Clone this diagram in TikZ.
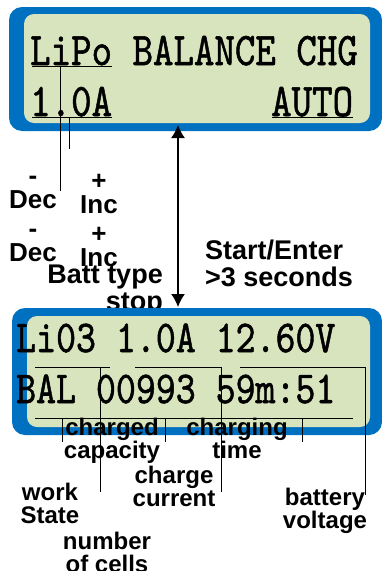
\documentclass[tikz,border=0pt]{standalone}
\usepackage{fontspec}
\setsansfont{Liberation Sans}
\newfontfamily\lcdfont{lmmono10-regular}[Extension=.otf,FakeBold=1.2]
\usetikzlibrary{arrows.meta}
\definecolor{lcdblue}{RGB}{0,112,192}
\definecolor{lcdgreen}{RGB}{215,228,189}
\newcommand{\tall}[1]{\scalebox{1}[1.2]{#1}}
\tikzset{
  lcdframe/.style={fill=lcdblue,rounded corners=13pt},
  lcdscreen/.style={fill=lcdgreen,rounded corners=10pt},
  lcdtext/.style={inner sep=0pt,anchor=base west,font=\lcdfont\fontsize{39}{39}\selectfont},
  keylbl/.style={inner sep=0pt,align=center,anchor=north,font=\sffamily\bfseries\fontsize{26}{24}\selectfont},
  biglbl/.style={inner sep=0pt,font=\sffamily\bfseries\fontsize{27}{27}\selectfont},
  fieldlbl/.style={inner sep=0pt,align=center,anchor=north,font=\sffamily\bfseries\fontsize{24}{23}\selectfont},
  pointer/.style={line width=1pt}
}
\begin{document}
\begin{tikzpicture}[x=1pt,y=-1pt]
  \useasboundingbox (0,0) rectangle (382,571);
  % upper display
  \fill[lcdframe] (9,7) rectangle (382,131);
  \fill[lcdscreen] (24,14) rectangle (370,123);
  \node[lcdtext] (mode) at (30,65) {\tall{LiPo BALANCE CHG}};
  \node[lcdtext] (amps) at (30,116) {\tall{1.0A}};
  \node[lcdtext] (auto) at (271,116) {\tall{AUTO}};
  \draw[pointer] (32,66) -- (112,66);
  \draw[pointer] (32,117) -- (112,117);
  \draw[pointer] (272,117) -- (353,117);
  \draw[pointer] (60,66) -- (60,191);
  \draw[pointer] (69,117) -- (69,149);
  % key labels
  \node[keylbl] (decA) at (33,176) {-\\Dec};
  \node[keylbl] (incA) at (99,174) {+\\Inc};
  \node[keylbl] (decB) at (33,229) {-\\Dec};
  \node[keylbl] (incB) at (99,227) {+\\Inc};
  \node[biglbl,align=right,anchor=north east] (batt) at (163,265) {Batt type\\stop};
  \node[biglbl,align=left,anchor=north west] (start) at (205,240) {Start/Enter\\>3 seconds};
  % start arrow
  \coordinate (upTip) at (178,125);
  \coordinate (downTip) at (178,307);
  \draw[{Latex[length=13pt,width=14pt]}-{Latex[length=13pt,width=14pt]},line width=1.5pt] (upTip) -- (downTip);
  % lower display
  \fill[lcdframe] (12,308) rectangle (382,435);
  \fill[lcdscreen] (27,316) rectangle (370,427);
  \node[lcdtext,font=\lcdfont\fontsize{38}{38}\selectfont] (volts) at (16,352) {\tall{Li03 1.0A 12.60V}};
  \node[lcdtext,font=\lcdfont\fontsize{38}{38}\selectfont] (state) at (16,403) {\tall{BAL 00993 59m:51}};
  \draw[pointer] (35,367) -- (110,367);
  \draw[pointer] (100,367) -- (100,492);
  \draw[pointer] (135,367) -- (221,367) -- (221,492);
  \draw[pointer] (240,367) -- (365,367) -- (365,495);
  \draw[pointer] (35,418) -- (353,418);
  \draw[pointer] (62,418) -- (62,442);
  \draw[pointer] (165,418) -- (165,442);
  \draw[pointer] (302,418) -- (302,442);
  % field labels
  \node[fieldlbl] (capacity) at (112,418) {charged\\capacity};
  \node[fieldlbl] (chgtime) at (237,418) {charging\\time};
  \node[fieldlbl] (chgcurr) at (174,466) {charge\\current};
  \node[fieldlbl] (work) at (50,483) {work\\State};
  \node[fieldlbl] (cells) at (107,532) {number\\of cells};
  \node[fieldlbl] (battv) at (325,488) {battery\\voltage};
\end{tikzpicture}
\end{document}
